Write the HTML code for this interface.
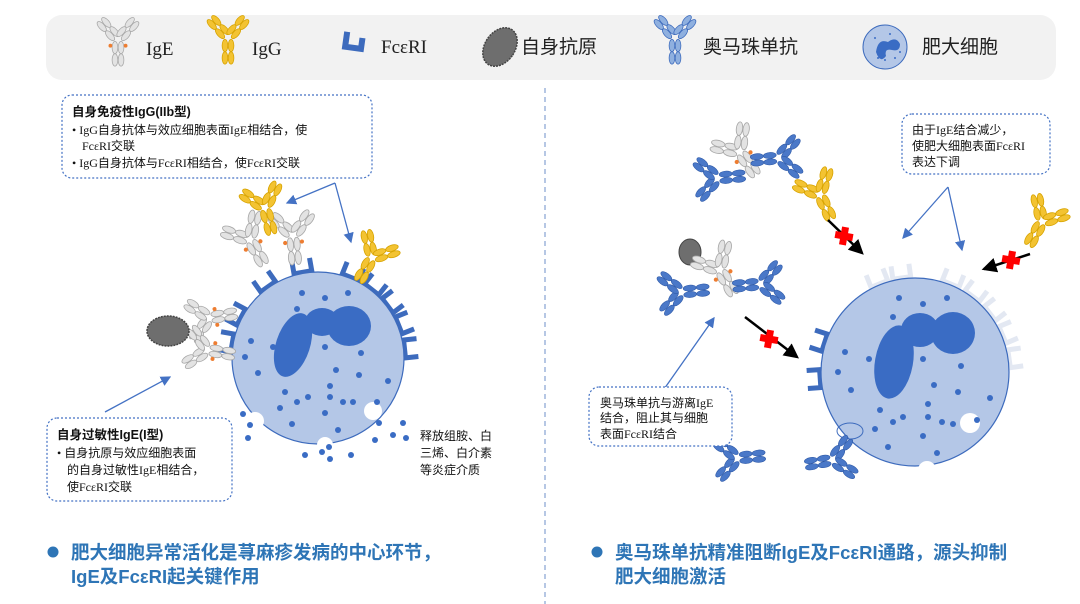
<!DOCTYPE html>
<html><head><meta charset="utf-8"><style>
body{margin:0;background:#fff;}
svg{display:block;font-family:"Liberation Sans","Noto Sans CJK SC",sans-serif;}
.s{font-family:"Liberation Serif","Noto Sans CJK SC",serif;}
</style></head><body>
<svg width="1080" height="604" viewBox="0 0 1080 604" xmlns="http://www.w3.org/2000/svg">
<defs>
<g id="ab">
 <ellipse cx="-3.2" cy="8" rx="3" ry="6.5"/><ellipse cx="3.2" cy="8" rx="3" ry="6.5"/>
 <ellipse cx="-3.2" cy="21" rx="3" ry="6.5"/><ellipse cx="3.2" cy="21" rx="3" ry="6.5"/>
 <g transform="rotate(-42)"><ellipse cx="-3.2" cy="-9" rx="3" ry="6.5"/><ellipse cx="3.2" cy="-9" rx="3" ry="6.5"/><ellipse cx="-3.2" cy="-22" rx="3" ry="6.5"/><ellipse cx="3.2" cy="-22" rx="3" ry="6.5"/></g>
 <g transform="rotate(42)"><ellipse cx="-3.2" cy="-9" rx="3" ry="6.5"/><ellipse cx="3.2" cy="-9" rx="3" ry="6.5"/><ellipse cx="-3.2" cy="-22" rx="3" ry="6.5"/><ellipse cx="3.2" cy="-22" rx="3" ry="6.5"/></g>
</g>
<g id="ige"><use href="#ab" fill="#e3e3e3" stroke="#a8a8a8" stroke-width="0.8"/><circle cx="-8" cy="6" r="2" fill="#ed7d31"/><circle cx="8" cy="6" r="2" fill="#ed7d31"/></g>
<g id="igg"><use href="#ab" fill="#f3c332" stroke="#d7a300" stroke-width="0.8"/></g>
<g id="oma"><use href="#ab" fill="#4a78c8" stroke="#2f5aa8" stroke-width="0.6"/></g>
<g id="fc"><path d="M-9,-13 V0 H9 V-13" fill="none" stroke="#3d6bbd" stroke-width="5"/></g>
<g id="fcf"><path d="M-9,-13 V0 H9 V-13" fill="none" stroke="#e3e8f2" stroke-width="5"/></g>
<marker id="ar" markerWidth="8" markerHeight="8" refX="7" refY="4" orient="auto"><path d="M0,0 L8,4 L0,8 z" fill="#4472c4"/></marker>
<marker id="ak" markerWidth="6" markerHeight="6" refX="5" refY="3" orient="auto"><path d="M0,0 L6,3 L0,6 z" fill="#000"/></marker>
<g id="cross"><rect x="-9" y="-3.5" width="18" height="7" fill="#ff0000"/><rect x="-3.5" y="-9" width="7" height="18" fill="#ff0000"/></g>
</defs>

<!-- legend bar -->
<rect x="46" y="15" width="1010" height="65" rx="16" fill="#f2f2f2"/>
<use href="#ige" transform="translate(118,40) scale(0.95)"/>
<text x="146" y="55" font-size="19" class="s" fill="#222">IgE</text>
<use href="#igg" transform="translate(228,38) scale(0.95)"/>
<text x="252" y="55" font-size="19" class="s" fill="#222">IgG</text>
<path d="M346,33 V48 H362 V37" fill="none" stroke="#3d6bbd" stroke-width="6" transform="rotate(8 355 41)"/>
<text x="381" y="53" font-size="19" class="s" fill="#222">FcεRI</text>
<ellipse cx="500" cy="47" rx="15" ry="21" transform="rotate(35 500 47)" fill="#6e6e6e" stroke="#444" stroke-width="1.5" stroke-dasharray="2 1"/>
<text x="521" y="53" font-size="19" fill="#222">自身抗原</text>
<use href="#ab" fill="#8fb0df" stroke="#3d6bbd" stroke-width="0.8" transform="translate(675,38) scale(0.95)"/>
<text x="703" y="53" font-size="19" fill="#222">奥马珠单抗</text>
<circle cx="885" cy="47" r="22" fill="#b4c7e7" stroke="#3d6bbd"/>
<path d="M876,52 q2,-14 12,-10 q8,-6 12,2 q0,8 -8,6 q-8,-2 -6,6 q-6,8 -10,-4z" fill="#3a6cc4"/>
<g fill="#3a6cc4"><circle cx="875" cy="38" r="1"/><circle cx="895" cy="58" r="1"/><circle cx="885" cy="60" r="1"/><circle cx="878" cy="58" r="1"/><circle cx="900" cy="52" r="1"/><circle cx="890" cy="34" r="1"/></g>
<text x="922" y="53" font-size="19" fill="#222">肥大细胞</text>

<!-- divider -->
<line x1="545" y1="88" x2="545" y2="604" stroke="#6d8fc9" stroke-width="1" stroke-dasharray="5 4"/>

<!-- LEFT CELL -->
<g>
<use href="#fc" transform="rotate(-80 318 358)" x="318" y="271"/>
<use href="#fc" transform="rotate(-62 318 358)" x="318" y="271"/>
<use href="#fc" transform="rotate(-35 318 358)" x="318" y="271"/>
<use href="#fc" transform="rotate(-10 318 358)" x="318" y="271"/>
<use href="#fc" transform="rotate(22 318 358)" x="318" y="271"/>
<use href="#fc" transform="rotate(38 318 358)" x="318" y="271"/>
<use href="#fc" transform="rotate(53 318 358)" x="318" y="271"/>
<use href="#fc" transform="rotate(68 318 358)" x="318" y="271"/>
<use href="#fc" transform="rotate(84 318 358)" x="318" y="271"/>
<circle cx="318" cy="358" r="86" fill="#b4c7e7" stroke="#3d6bbd" stroke-width="1.2"/>
<circle cx="255" cy="421" r="9" fill="#fff"/>
<circle cx="325" cy="445" r="8" fill="#fff"/>
<circle cx="373" cy="411" r="9" fill="#fff"/>
<ellipse cx="293" cy="345" rx="17" ry="33" transform="rotate(18 293 345)" fill="#3a6cc4"/>
<ellipse cx="322" cy="322" rx="17" ry="14" fill="#3a6cc4"/>
<ellipse cx="349" cy="326" rx="22" ry="20" fill="#3a6cc4"/>
<g fill="#3a6cc4">
<circle cx="302" cy="293" r="3"/><circle cx="325" cy="298" r="3"/><circle cx="348" cy="293" r="3"/><circle cx="297" cy="309" r="3"/>
<circle cx="251" cy="341" r="3"/><circle cx="273" cy="347" r="3"/><circle cx="245" cy="357" r="3"/><circle cx="258" cy="373" r="3"/>
<circle cx="325" cy="347" r="3"/><circle cx="361" cy="353" r="3"/><circle cx="336" cy="370" r="3"/><circle cx="359" cy="375" r="3"/><circle cx="388" cy="381" r="3"/>
<circle cx="330" cy="386" r="3"/><circle cx="285" cy="392" r="3"/><circle cx="308" cy="397" r="3"/><circle cx="330" cy="397" r="3"/><circle cx="297" cy="402" r="3"/>
<circle cx="343" cy="402" r="3"/><circle cx="353" cy="402" r="3"/><circle cx="280" cy="408" r="3"/><circle cx="325" cy="413" r="3"/><circle cx="292" cy="424" r="3"/><circle cx="338" cy="430" r="3"/><circle cx="377" cy="402" r="3"/>
<circle cx="243" cy="414" r="3"/><circle cx="250" cy="425" r="3"/><circle cx="248" cy="438" r="3"/><circle cx="305" cy="455" r="3"/><circle cx="322" cy="452" r="3"/><circle cx="329" cy="447" r="3"/><circle cx="330" cy="459" r="3"/><circle cx="351" cy="455" r="3"/>
<circle cx="379" cy="423" r="3"/><circle cx="403" cy="423" r="3"/><circle cx="375" cy="440" r="3"/><circle cx="393" cy="435" r="3"/><circle cx="406" cy="438" r="3"/>
</g>
<!-- antibodies on left cell -->
<use href="#ige" transform="translate(210,318) rotate(-100) scale(1)"/>
<use href="#ige" transform="translate(208,350) rotate(-80) scale(1)"/>
<ellipse cx="168" cy="331" rx="21" ry="15" fill="#6e6e6e" stroke="#444" stroke-width="1.5" stroke-dasharray="2 1"/>
<use href="#ige" transform="translate(250,240) rotate(-30) scale(1.05)"/>
<use href="#ige" transform="translate(293,236) rotate(-5) scale(1.05)"/>
<use href="#igg" transform="translate(265,208) rotate(-15) scale(1)"/>
<use href="#igg" transform="translate(372,258) rotate(30) scale(1)"/>
</g>

<!-- RIGHT CELL -->
<g>
<use href="#fcf" transform="rotate(-22 915 372)" x="915" y="277"/>
<use href="#fcf" transform="rotate(-8 915 372)" x="915" y="277"/>
<use href="#fcf" transform="rotate(22 915 372)" x="915" y="277"/>
<use href="#fcf" transform="rotate(37 915 372)" x="915" y="277"/>
<use href="#fcf" transform="rotate(52 915 372)" x="915" y="277"/>
<use href="#fcf" transform="rotate(67 915 372)" x="915" y="277"/>
<use href="#fcf" transform="rotate(82 915 372)" x="915" y="277"/>
<use href="#fc" transform="rotate(-72 915 372)" x="915" y="277"/>
<use href="#fc" transform="rotate(-94 915 372)" x="915" y="277"/>
<circle cx="915" cy="372" r="94" fill="#b4c7e7" stroke="#3d6bbd" stroke-width="1.2"/>
<ellipse cx="850" cy="431" rx="13" ry="8" fill="none" stroke="#3d6bbd" stroke-width="1"/>
<circle cx="927" cy="470" r="9" fill="#fff"/>
<circle cx="970" cy="423" r="10" fill="#fff"/>
<ellipse cx="894" cy="362" rx="19" ry="37" transform="rotate(10 894 362)" fill="#3a6cc4"/>
<ellipse cx="920" cy="330" rx="19" ry="17" fill="#3a6cc4"/>
<ellipse cx="953" cy="333" rx="22" ry="21" fill="#3a6cc4"/>
<g fill="#3a6cc4">
<circle cx="899" cy="298" r="3"/><circle cx="923" cy="304" r="3"/><circle cx="947" cy="298" r="3"/><circle cx="893" cy="317" r="3"/>
<circle cx="845" cy="352" r="3"/><circle cx="869" cy="359" r="3"/><circle cx="838" cy="372" r="3"/><circle cx="851" cy="390" r="3"/>
<circle cx="923" cy="359" r="3"/><circle cx="961" cy="366" r="3"/><circle cx="934" cy="385" r="3"/><circle cx="958" cy="392" r="3"/><circle cx="990" cy="398" r="3"/>
<circle cx="928" cy="404" r="3"/><circle cx="880" cy="410" r="3"/><circle cx="903" cy="417" r="3"/><circle cx="928" cy="417" r="3"/><circle cx="893" cy="422" r="3"/>
<circle cx="942" cy="422" r="3"/><circle cx="953" cy="424" r="3"/><circle cx="875" cy="429" r="3"/><circle cx="923" cy="436" r="3"/><circle cx="888" cy="447" r="3"/><circle cx="937" cy="453" r="3"/><circle cx="977" cy="420" r="3"/>
</g>
<!-- free antibodies -->
<use href="#ige" transform="translate(740,152) rotate(-35) scale(1.05)"/>
<use href="#oma" transform="translate(718,178) rotate(-95) scale(1)"/>
<use href="#oma" transform="translate(778,158) rotate(85) scale(1)"/>
<use href="#igg" transform="translate(820,195) rotate(-25) scale(1)"/>
<use href="#igg" transform="translate(1042,222) rotate(30) scale(1)"/>
<ellipse cx="690" cy="252" rx="11" ry="13" fill="#6e6e6e" stroke="#444"/>
<use href="#ige" transform="translate(720,270) rotate(-30) scale(1.05)"/>
<use href="#oma" transform="translate(682,292) rotate(-95) scale(1)"/>
<use href="#oma" transform="translate(760,284) rotate(85) scale(1)"/>
<use href="#oma" transform="translate(738,458) rotate(-95) scale(1)"/>
<use href="#oma" transform="translate(832,460) rotate(80) scale(1)"/>
</g>

<!-- arrows -->
<g stroke="#4472c4" stroke-width="1.3" fill="none">
<path d="M335,183 L287,203" marker-end="url(#ar)"/>
<path d="M335,183 L351,242" marker-end="url(#ar)"/>
<path d="M105,412 L170,377" marker-end="url(#ar)"/>
<path d="M948,187 L903,238" marker-end="url(#ar)"/>
<path d="M948,187 L962,250" marker-end="url(#ar)"/>
<path d="M662,392 L714,318" marker-end="url(#ar)"/>
</g>
<g stroke="#000" stroke-width="2.5">
<line x1="828" y1="220" x2="862" y2="253" marker-end="url(#ak)"/>
<line x1="1030" y1="254" x2="984" y2="269" marker-end="url(#ak)"/>
<line x1="745" y1="317" x2="797" y2="357" marker-end="url(#ak)"/>
</g>
<use href="#cross" transform="translate(844,236) rotate(10)"/>
<use href="#cross" transform="translate(1011,260) rotate(10)"/>
<use href="#cross" transform="translate(769,339) rotate(10)"/>

<!-- text boxes -->
<rect x="62" y="95" width="310" height="83" rx="10" fill="#fff" stroke="#4472c4" stroke-width="1.2" stroke-dasharray="2 2"/>
<text x="72" y="116" font-size="12.5" font-weight="bold" fill="#111">自身免疫性IgG(IIb型)</text>
<text x="72" y="134" font-size="12" fill="#111" class="s">• IgG自身抗体与效应细胞表面IgE相结合，使</text>
<text x="82" y="150" font-size="12" fill="#111" class="s">FcεRI交联</text>
<text x="72" y="167" font-size="12" fill="#111" class="s">• IgG自身抗体与FcεRI相结合，使FcεRI交联</text>

<rect x="47" y="418" width="185" height="83" rx="10" fill="#fff" stroke="#4472c4" stroke-width="1.2" stroke-dasharray="2 2"/>
<text x="57" y="439" font-size="12.5" font-weight="bold" fill="#111">自身过敏性IgE(I型)</text>
<text x="57" y="457" font-size="12" fill="#111" class="s">• 自身抗原与效应细胞表面</text>
<text x="67" y="474" font-size="12" fill="#111" class="s">的自身过敏性IgE相结合，</text>
<text x="67" y="491" font-size="12" fill="#111" class="s">使FcεRI交联</text>

<text x="420" y="440" font-size="12" fill="#111">释放组胺、白</text>
<text x="420" y="457" font-size="12" fill="#111">三烯、白介素</text>
<text x="420" y="474" font-size="12" fill="#111">等炎症介质</text>

<rect x="902" y="114" width="148" height="60" rx="10" fill="#fff" stroke="#4472c4" stroke-width="1.2" stroke-dasharray="2 2"/>
<text x="912" y="134" font-size="12" fill="#111" class="s">由于IgE结合减少，</text>
<text x="912" y="150" font-size="12" fill="#111" class="s">使肥大细胞表面FcεRI</text>
<text x="912" y="166" font-size="12" fill="#111" class="s">表达下调</text>

<rect x="589" y="387" width="143" height="59" rx="10" fill="#fff" stroke="#4472c4" stroke-width="1.2" stroke-dasharray="2 2"/>
<text x="600" y="407" font-size="12" fill="#111" class="s">奥马珠单抗与游离IgE</text>
<text x="600" y="422" font-size="12" fill="#111" class="s">结合，阻止其与细胞</text>
<text x="600" y="438" font-size="12" fill="#111" class="s">表面FcεRI结合</text>

<!-- bottom text -->
<circle cx="53" cy="552" r="5.5" fill="#2e75b6"/>
<text x="71" y="559" font-size="18.5" font-weight="bold" fill="#2e75b6">肥大细胞异常活化是荨麻疹发病的中心环节，</text>
<text x="71" y="583" font-size="18.5" font-weight="bold" fill="#2e75b6">IgE及FcεRI起关键作用</text>
<circle cx="597" cy="552" r="5.5" fill="#2e75b6"/>
<text x="615" y="559" font-size="18.5" font-weight="bold" fill="#2e75b6">奥马珠单抗精准阻断IgE及FcεRI通路，源头抑制</text>
<text x="615" y="583" font-size="18.5" font-weight="bold" fill="#2e75b6">肥大细胞激活</text>
</svg>
</body></html>
